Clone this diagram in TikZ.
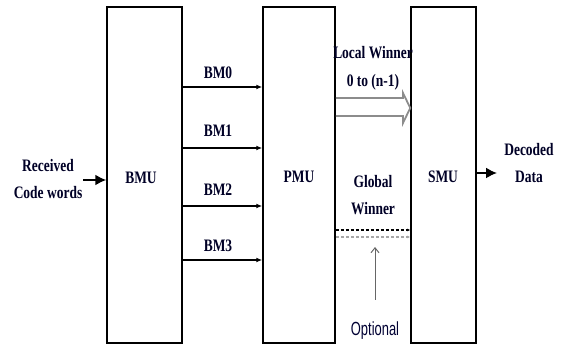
\documentclass[tikz,border=0pt]{standalone}
\usepackage{fontspec}
\setmainfont{Liberation Serif}[FakeStretch=0.77]
\newfontfamily\optfont{Liberation Sans}[FakeStretch=0.68]
\usetikzlibrary{arrows.meta}
\begin{document}
\begin{tikzpicture}[x=1pt,y=-1pt,
  unit/.style={draw,line width=1.5pt,inner sep=0pt},
  lbl/.style={font=\fontsize{17.5}{27}\selectfont\bfseries,text=black!85!blue,align=center,inner sep=0pt},
  bmarrow/.style={line width=1.5pt,-{Latex[length=6pt,width=5pt]}},
  bigarrow/.style={line width=1.8pt,-{Latex[length=11pt,width=11pt]}},
  hollow/.style={draw=black!45,line width=1.8pt,line join=miter},
  dash1/.style={line width=1.3pt,dash pattern=on 3pt off 2pt},
]
\useasboundingbox (0,0) rectangle (563,347);

% processing units
\node[unit,minimum width=75pt,minimum height=336pt] (bmu) at (144.5,175) {};
\node[unit,minimum width=72pt,minimum height=336pt] (pmu) at (299,175) {};
\node[unit,minimum width=65pt,minimum height=336pt] (smu) at (443.5,175) {};
\node[lbl] (bmut) at (141,178) {BMU};
\node[lbl] (pmut) at (299,177) {PMU};
\node[lbl] (smut) at (443,177) {SMU};

% input
\node[lbl] (rx) at (48,179) {Received\\Code words};
\coordinate (rxs) at (83,180);
\draw[bigarrow] (rxs) -- (rxs -| bmu.west);

% branch metrics
\foreach \y/\t/\ly [count=\i from 0] in {87/BM0/73, 148/BM1/131, 206/BM2/190, 260/BM3/246}{
  \node[lbl] (bm\i) at (218,\ly) {\t};
  \draw[bmarrow] (bmu.east |- 0,\y) -- (pmu.west |- 0,\y);
}

% local winners (bus arrow)
\node[lbl] (lw) at (373,53) {Local Winner};
\node[lbl] (lwr) at (373,82) {0 to (n-1)};
\coordinate (hb) at (403,98);
\draw[hollow] (pmu.east |- hb) -- (hb) -- (403,93) -- (smu.west |- 0,108) -- (403,123) -- (403,116) -- (pmu.east |- 0,116);

% global winner
\node[lbl] (gw) at (373,195) {Global\\Winner};
\draw[dash1,-{Latex[length=3pt,width=3pt]}] (pmu.east |- 0,230) -- (smu.west |- 0,230);
\draw[dash1,black!35,-{Latex[length=3pt,width=3pt]}] (pmu.east |- 0,237) -- (smu.west |- 0,237);
\node[font=\optfont\fontsize{19}{20}\selectfont,text=black!80!blue,inner sep=0pt] (opt) at (375,331) {Optional};
\coordinate (optt) at (375,247);
\draw[black!60,line width=1pt,-{Straight Barb[length=5pt,width=8pt]}] (375,300) -- (optt);

% output
\node[lbl] (dd) at (529,163) {Decoded\\Data};
\draw[bigarrow] (smu.east |- 0,173) -- (497,173);
\end{tikzpicture}
\end{document}
